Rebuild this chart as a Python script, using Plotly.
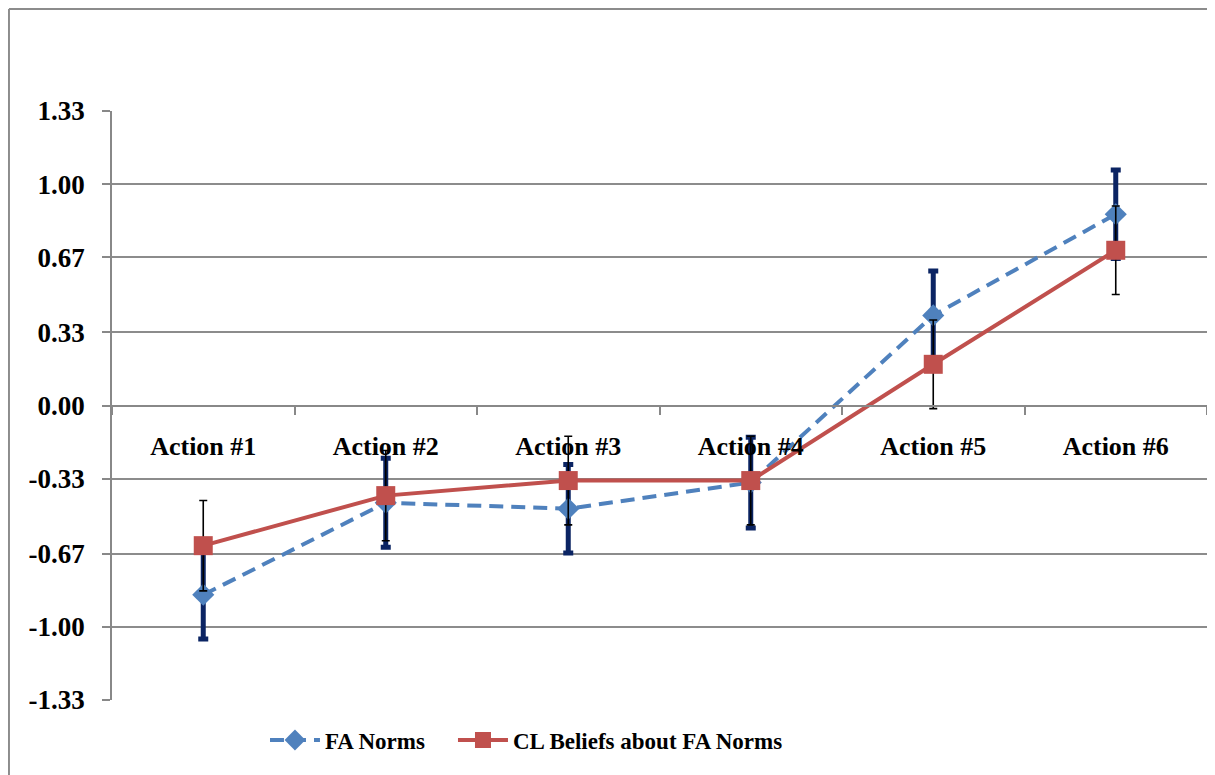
import plotly.graph_objects as go

categories = ["Action #1", "Action #2", "Action #3", "Action #4", "Action #5", "Action #6"]
fa_norms = [-0.855, -0.439, -0.466, -0.348, 0.407, 0.864]
fa_err = [0.200, 0.201, 0.200, 0.205, 0.200, 0.200]
cl_beliefs = [-0.633, -0.407, -0.339, -0.339, 0.186, 0.701]
cl_err = [0.204, 0.204, 0.200, 0.200, 0.200, 0.200]
y_ticks = [-1.33, -1.00, -0.67, -0.33, 0.00, 0.33, 0.67, 1.00, 1.33]
y_tick_labels = ["-1.33", "-1.00", "-0.67", "-0.33", "0.00", "0.33", "0.67", "1.00", "1.33"]

SERIF = "Liberation Serif, Times New Roman, serif"
LEG_FONT = dict(family=SERIF, size=23, color="black", weight="bold")

fig = go.Figure()
fig.add_trace(go.Scatter(
    x=categories, y=fa_norms, name="FA Norms", mode="lines+markers",
    line=dict(color="#4F81BD", width=4, dash="14px,8px"),
    marker=dict(symbol="diamond", size=17, color="#4F81BD"),
    error_y=dict(type="data", array=fa_err, color="#0B2463", thickness=5, width=5),
    legend="legend",
))
fig.add_trace(go.Scatter(
    x=categories, y=cl_beliefs, name="CL Beliefs about FA Norms", mode="lines+markers",
    line=dict(color="#C0504D", width=4),
    marker=dict(symbol="square", size=19, color="#C0504D"),
    error_y=dict(type="data", array=cl_err, color="#000000", thickness=1.6, width=4),
    legend="legend2",
))

fig.update_layout(
    width=1215, height=775,
    margin=dict(l=104, r=16, t=103, b=83),
    paper_bgcolor="white", plot_bgcolor="white",
    font=dict(family=SERIF, size=22, color="black", weight="bold"),
    showlegend=True,
    legend=dict(orientation="h", x=0.1397, xanchor="left", y=-0.068, yanchor="middle",
                font=LEG_FONT, bgcolor="rgba(0,0,0,0)", itemwidth=50),
    legend2=dict(orientation="h", x=0.3114, xanchor="left", y=-0.068, yanchor="middle",
                 font=LEG_FONT, bgcolor="rgba(0,0,0,0)", itemwidth=50),
    xaxis=dict(
        type="category", anchor="free", position=0.5,
        showline=True, linecolor="#888888", linewidth=1.5,
        ticks="outside", tickson="boundaries", ticklen=9, tickcolor="#888888", tickwidth=1.5,
        showgrid=False, ticklabelstandoff=18,
        tickfont=dict(family=SERIF, size=26, color="black", weight="bold"),
        range=[-0.5, 5.5],
    ),
    yaxis=dict(
        range=[-1.33, 1.33], tickvals=y_ticks, ticktext=y_tick_labels,
        showline=True, linecolor="#888888", linewidth=1.5,
        ticks="outside", ticklen=8, tickcolor="#888888", tickwidth=1.5,
        showgrid=True, gridcolor="#8C8C8C", gridwidth=1.5,
        zeroline=False, ticklabelstandoff=12,
        tickfont=dict(family=SERIF, size=27, color="black", weight="bold"),
    ),
    shapes=[
        dict(type="line", xref="paper", yref="paper", x0=-0.0941, x1=1.02, y0=1.1732, y1=1.1732,
             line=dict(color="#8C8C8C", width=2)),
        dict(type="line", xref="paper", yref="paper", x0=-0.0941, x1=-0.0941, y0=1.1732, y1=-0.2,
             line=dict(color="#8C8C8C", width=2)),
    ],
)

fig.write_html("out.html")
